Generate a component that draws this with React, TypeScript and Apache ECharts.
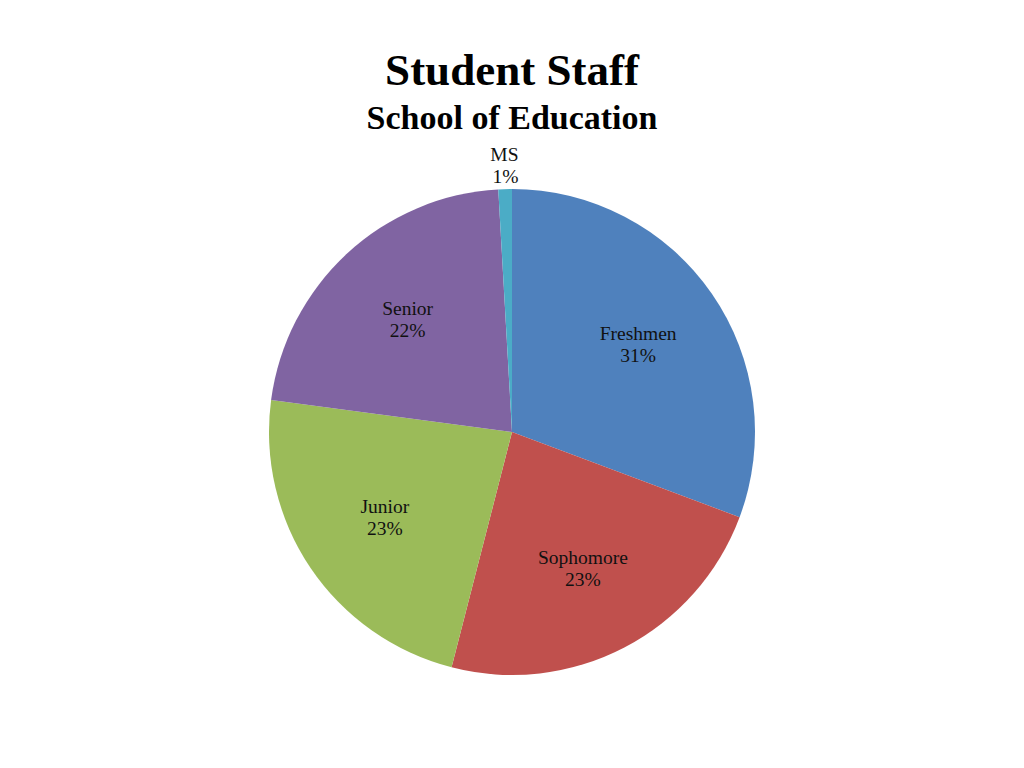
import React, { useEffect, useRef } from "react";
import * as echarts from "echarts";

const categories = ["Freshmen", "Sophomore", "Junior", "Senior", "MS"];
const shares = [30.7, 23.3, 23.1, 22.0, 0.9];
const colors = ["#4F81BD", "#C0504D", "#9BBB59", "#8064A2", "#4BACC6"];

const serif = "'Liberation Serif', 'Times New Roman', serif";

const App: React.FC = () => {
  const chartRef = useRef<HTMLDivElement>(null);

  useEffect(() => {
    const chart = echarts.init(chartRef.current!, undefined, { renderer: "svg" });

    const labelStyle = {
      fontFamily: serif,
      fontSize: 19.5,
      lineHeight: 22,
      color: "#111",
      formatter: "{b}\n{d}%",
    };

    const option = {
      animation: false,
      backgroundColor: "#ffffff",
      title: [
        {
          text: "Student Staff",
          left: "center",
          top: 42,
          textStyle: { fontFamily: serif, fontWeight: "bold", fontSize: 45, color: "#000" },
        },
        {
          text: "School of Education",
          left: "center",
          top: 95,
          textStyle: { fontFamily: serif, fontWeight: "bold", fontSize: 34, color: "#000" },
        },
      ],
      series: [
        {
          type: "pie",
          center: [512, 432],
          radius: [0, 243],
          startAngle: 90,
          clockwise: true,
          percentPrecision: 0,
          silent: true,
          label: { show: false },
          labelLine: { show: false, length: 24, length2: 0 },
          data: categories.map((name, i) => ({
            name,
            value: shares[i],
            itemStyle: { color: colors[i] },
            label:
              name === "MS"
                ? { show: true, position: "outside", ...labelStyle }
                : { show: false },
          })),
          labelLayout: (p: any) =>
            p.dataIndex === 4 ? { dx: p.labelRect.width / 2 + 5 } : {},
        },
        {
          type: "pie",
          center: [512, 432],
          radius: [58, 243],
          startAngle: 90,
          clockwise: true,
          percentPrecision: 0,
          silent: true,
          itemStyle: { color: "rgba(0,0,0,0)" },
          label: { show: true, position: "inside", ...labelStyle },
          labelLine: { show: false },
          data: categories.map((name, i) => ({
            name,
            value: shares[i],
            label: name === "MS" ? { show: false } : undefined,
          })),
        },
      ],
    };

    chart.setOption(option as any);

    return () => {
      chart.dispose();
    };
  }, []);

  return (
    <div
      ref={chartRef}
      style={{ position: "fixed", left: 0, top: 0, width: "1024px", height: "768px" }}
    ></div>
  );
};

export default App;
